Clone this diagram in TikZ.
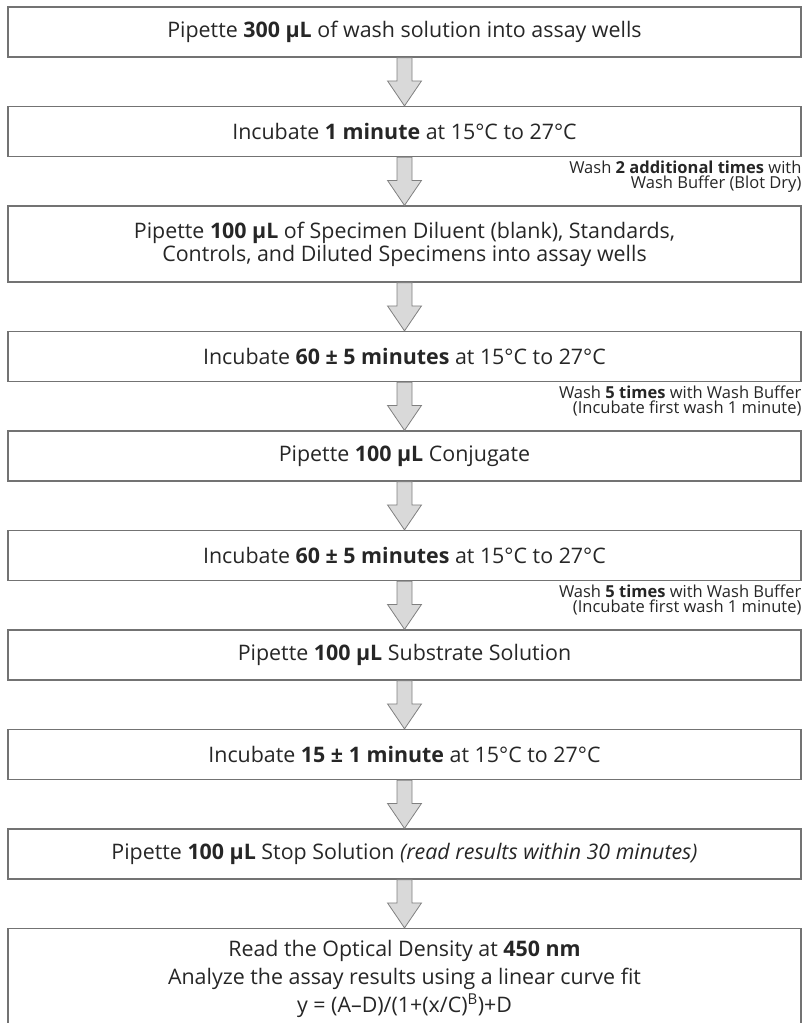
\documentclass[tikz,border=0pt]{standalone}
\usepackage{fontspec}
\setmainfont{Open Sans}
\usetikzlibrary{calc, positioning}
\definecolor{boxline}{gray}{0.45}
\definecolor{arrowfill}{gray}{0.85}
\definecolor{arrowline}{gray}{0.5}
\definecolor{inkgray}{gray}{0.15}
\tikzset{
  stepbox/.style  = {draw=boxline, line width=1.2pt, minimum width=793pt, minimum height=50pt,
                     inner sep=0pt, align=center, font=\fontsize{21.4}{23}\selectfont, text=inkgray},
  washnote/.style = {anchor=north east, align=right, inner sep=0pt,
                     font=\fontsize{16.5}{15}\selectfont, text=inkgray},
  bigarrow/.style = {draw=arrowline, fill=arrowfill, line width=0.8pt, line join=miter},
}
\newcommand{\steparrow}[2]{%
  \draw[bigarrow] let \p1 = (#1.south), \p2 = (#2.north) in
    (\x1-7.5,\y1) -- (\x1+7.5,\y1) -- (\x1+7.5,\y2+25) -- (\x1+17,\y2+25)
    -- (\x1,\y2) -- (\x1-17,\y2+25) -- (\x1-7.5,\y2+25) -- cycle;
}
\begin{document}
\begin{tikzpicture}[x=1pt, y=1pt, node distance=48.3pt]
  \useasboundingbox (0,0) rectangle (806,-1023);
  % steps
  \node[stepbox] (wash) at (404.5,-32) {Pipette \textbf{300 µL} of wash solution into assay wells};
  \node[stepbox, below=of wash] (inc1) {Incubate \textbf{1 minute} at 15°C to 27°C};
  \node[stepbox, below=of inc1, minimum height=76pt] (spec) {Pipette \textbf{100 µL} of Specimen Diluent (blank), Standards,\\Controls, and Diluted Specimens into assay wells};
  \node[stepbox, below=of spec] (inc2) {Incubate \textbf{60 ± 5 minutes} at 15°C to 27°C};
  \node[stepbox, below=of inc2] (conj) {Pipette \textbf{100 µL} Conjugate};
  \node[stepbox, below=of conj] (inc3) {Incubate \textbf{60 ± 5 minutes} at 15°C to 27°C};
  \node[stepbox, below=of inc3] (subs) {Pipette \textbf{100 µL} Substrate Solution};
  \node[stepbox, below=of subs] (inc4) {Incubate \textbf{15 ± 1 minute} at 15°C to 27°C};
  \node[stepbox, below=of inc4] (stop) {Pipette \textbf{100 µL} Stop Solution \textit{(read results within 30 minutes)}};
  \node[stepbox, below=of stop, minimum height=100pt, font=\fontsize{21.4}{28}\selectfont] (read) {Read the Optical Density at \textbf{450 nm}\\Analyze the assay results using a linear curve fit\\y = (A–D)/(1+(x/C)\textsuperscript{B})+D};
  % wash notes
  \node[washnote] (note1) at ($(inc1.south east)+(0,-4)$) {Wash \textbf{2 additional times} with\\Wash Buffer (Blot Dry)};
  \node[washnote] (note2) at ($(inc2.south east)+(0,-4)$) {Wash \textbf{5 times} with Wash Buffer\\(Incubate first wash 1 minute)};
  \node[washnote] (note3) at ($(inc3.south east)+(0,-4)$) {Wash \textbf{5 times} with Wash Buffer\\(Incubate first wash 1 minute)};
  % arrows
  \steparrow{wash}{inc1}
  \steparrow{inc1}{spec}
  \steparrow{spec}{inc2}
  \steparrow{inc2}{conj}
  \steparrow{conj}{inc3}
  \steparrow{inc3}{subs}
  \steparrow{subs}{inc4}
  \steparrow{inc4}{stop}
  \steparrow{stop}{read}
\end{tikzpicture}
\end{document}
